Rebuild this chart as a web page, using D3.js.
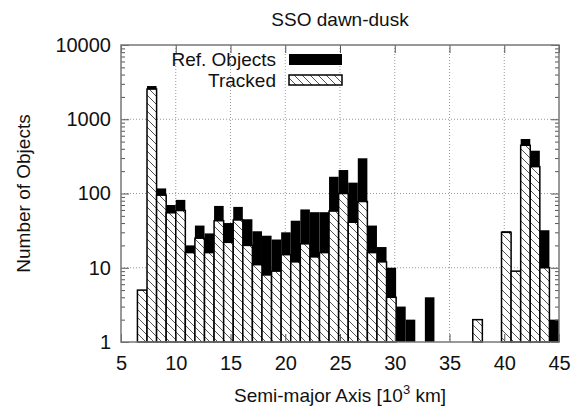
<!DOCTYPE html>
<html>
<head>
<meta charset="utf-8">
<script src="https://cdn.jsdelivr.net/npm/d3@7"></script>
<style>
  body { margin: 0; background: #fff; }
  text { font-family: "Liberation Sans", Arial, sans-serif; fill: #111; }
</style>
</head>
<body>
<div id="histChart"></div>
<script>
const width = 573;
const height = 409;
const margin = {top: 45, right: 14, bottom: 67, left: 121};
const graphWidth = width - margin.left - margin.right;
const graphHeight = height - margin.top - margin.bottom;

// histogram bins: left edge of the first bin and bin width, in 10^3 km
const binStart = 6.5;
const binWidth = 0.875;

// counts per bin (44 bins)
const refObjects = [5, 2800, 117, 70, 82, 20, 37, 29, 68, 40, 66, 45, 31, 27, 24, 30,
  43, 61, 56, 56, 168, 207, 140, 298, 37, 19, 10, 3, 2, 0, 4, 0, 0, 0, 0, 2, 0, 0,
  31, 9, 542, 377, 32, 2];
const tracked = [5, 2550, 95, 55, 59, 16, 25, 16, 43, 22, 44, 20, 11, 8, 9, 15,
  12, 21, 14, 16, 58, 100, 41, 78, 16, 12, 4, 0, 0, 0, 0, 0, 0, 0, 0, 2, 0, 0,
  30, 9, 446, 230, 10, 0];

const xTicks = [5, 10, 15, 20, 25, 30, 35, 40, 45];
const yTicks = [1, 10, 100, 1000, 10000];

const bins = refObjects.map((d, i) => ({
  x0: binStart + i * binWidth,
  x1: binStart + (i + 1) * binWidth,
  ref: d,
  tracked: tracked[i]
}));

const svg = d3.select('#histChart')
  .append('svg')
  .attr('width', width)
  .attr('height', height);

// hatch pattern on a white ground
const hatch = svg.append('defs').append('pattern')
  .attr('id', 'hatch')
  .attr('patternUnits', 'userSpaceOnUse')
  .attr('width', 8)
  .attr('height', 8);
hatch.append('rect').attr('width', 8).attr('height', 8).attr('fill', '#fff');
hatch.append('path')
  .attr('d', 'M0,0 L8,8 M-2,6 L2,10 M6,-2 L10,2')
  .attr('stroke', '#555')
  .attr('stroke-width', 1);

const graph = svg.append('g')
  .attr('transform', 'translate(' + margin.left + ',' + margin.top + ')');

const x = d3.scaleLinear().domain([5, 45]).range([0, graphWidth]);
const y = d3.scaleLog().domain([1, 10000]).range([graphHeight, 0]);

// dotted grid
graph.append('g').selectAll('line')
  .data(xTicks.slice(1, -1))
  .enter().append('line')
  .attr('x1', d => x(d)).attr('x2', d => x(d))
  .attr('y1', 0).attr('y2', graphHeight)
  .attr('stroke', '#999').attr('stroke-dasharray', '1,2');
graph.append('g').selectAll('line')
  .data(yTicks.slice(1, -1))
  .enter().append('line')
  .attr('x1', 0).attr('x2', graphWidth)
  .attr('y1', d => y(d)).attr('y2', d => y(d))
  .attr('stroke', '#999').attr('stroke-dasharray', '1,2');

// ref objects (black) then tracked (hatched) on top
graph.selectAll('.bar.ref')
  .data(bins.filter(d => d.ref > 0))
  .enter().append('rect')
  .attr('class', 'bar ref')
  .attr('x', d => x(d.x0))
  .attr('y', d => y(d.ref))
  .attr('width', d => x(d.x1) - x(d.x0))
  .attr('height', d => graphHeight - y(d.ref))
  .attr('fill', '#000');

graph.selectAll('.bar.tracked')
  .data(bins.filter(d => d.tracked > 0))
  .enter().append('rect')
  .attr('class', 'bar tracked')
  .attr('x', d => x(d.x0))
  .attr('y', d => y(d.tracked))
  .attr('width', d => x(d.x1) - x(d.x0))
  .attr('height', d => graphHeight - y(d.tracked))
  .attr('fill', 'url(#hatch)')
  .attr('stroke', '#000')
  .attr('stroke-width', 1.5);

// minor log ticks
const minorTicks = [];
yTicks.slice(0, -1).forEach(t => {
  for (let k = 2; k < 10; k++) minorTicks.push(t * k);
});

const axisStyle = g => {
  g.select('.domain').remove();
  g.selectAll('.tick line').attr('stroke', '#555');
  g.selectAll('.tick text').style('font-size', '20px')
    .style('font-family', '"Liberation Sans", Arial, sans-serif').attr('fill', '#111');
};

graph.append('g')
  .attr('class', 'y axis')
  .call(d3.axisLeft(y).tickValues(yTicks).tickFormat(d3.format('d')).tickSize(-8).tickPadding(10))
  .call(axisStyle);
graph.append('g')
  .call(d3.axisLeft(y).tickValues(minorTicks).tickFormat('').tickSize(-4))
  .call(axisStyle);
graph.append('g')
  .attr('transform', 'translate(' + graphWidth + ',0)')
  .call(d3.axisRight(y).tickValues(yTicks).tickFormat('').tickSize(-8))
  .call(axisStyle);
graph.append('g')
  .attr('transform', 'translate(' + graphWidth + ',0)')
  .call(d3.axisRight(y).tickValues(minorTicks).tickFormat('').tickSize(-4))
  .call(axisStyle);

graph.append('g')
  .attr('class', 'x axis')
  .attr('transform', 'translate(0,' + graphHeight + ')')
  .call(d3.axisBottom(x).tickValues(xTicks).tickSize(-8).tickPadding(14))
  .call(axisStyle);
graph.append('g')
  .call(d3.axisTop(x).tickValues(xTicks).tickFormat('').tickSize(-8))
  .call(axisStyle);

// frame
graph.append('rect')
  .attr('width', graphWidth)
  .attr('height', graphHeight)
  .attr('fill', 'none')
  .attr('stroke', '#777')
  .attr('stroke-width', 1.5);

// legend
const legend = graph.append('g').attr('transform', 'translate(' + (289 - margin.left) + ',' + (54 - margin.top) + ')');
legend.append('rect').attr('x', 0).attr('y', 0).attr('width', 53).attr('height', 11).attr('fill', '#000');
legend.append('rect').attr('x', 0).attr('y', 21).attr('width', 53).attr('height', 10)
  .attr('fill', 'url(#hatch)').attr('stroke', '#000').attr('stroke-width', 1.5);
legend.append('text').attr('x', -13).attr('y', 5).attr('dy', '0.35em')
  .attr('text-anchor', 'end').style('font-size', '19px').text('Ref. Objects');
legend.append('text').attr('x', -13).attr('y', 26).attr('dy', '0.35em')
  .attr('text-anchor', 'end').style('font-size', '19px').text('Tracked');

// titles
svg.append('text')
  .attr('x', margin.left + graphWidth / 2).attr('y', 26)
  .attr('text-anchor', 'middle').style('font-size', '19px').text('SSO dawn-dusk');

const xLabel = svg.append('text')
  .attr('x', margin.left + graphWidth / 2).attr('y', 402)
  .attr('text-anchor', 'middle').style('font-size', '19px');
xLabel.append('tspan').text('Semi-major Axis [10');
xLabel.append('tspan').attr('dy', -8).style('font-size', '13px').text('3');
xLabel.append('tspan').attr('dy', 8).text(' km]');

svg.append('text')
  .attr('transform', 'translate(30,' + (margin.top + graphHeight / 2) + ') rotate(-90)')
  .attr('text-anchor', 'middle').style('font-size', '19px').text('Number of Objects');
</script>
</body>
</html>
